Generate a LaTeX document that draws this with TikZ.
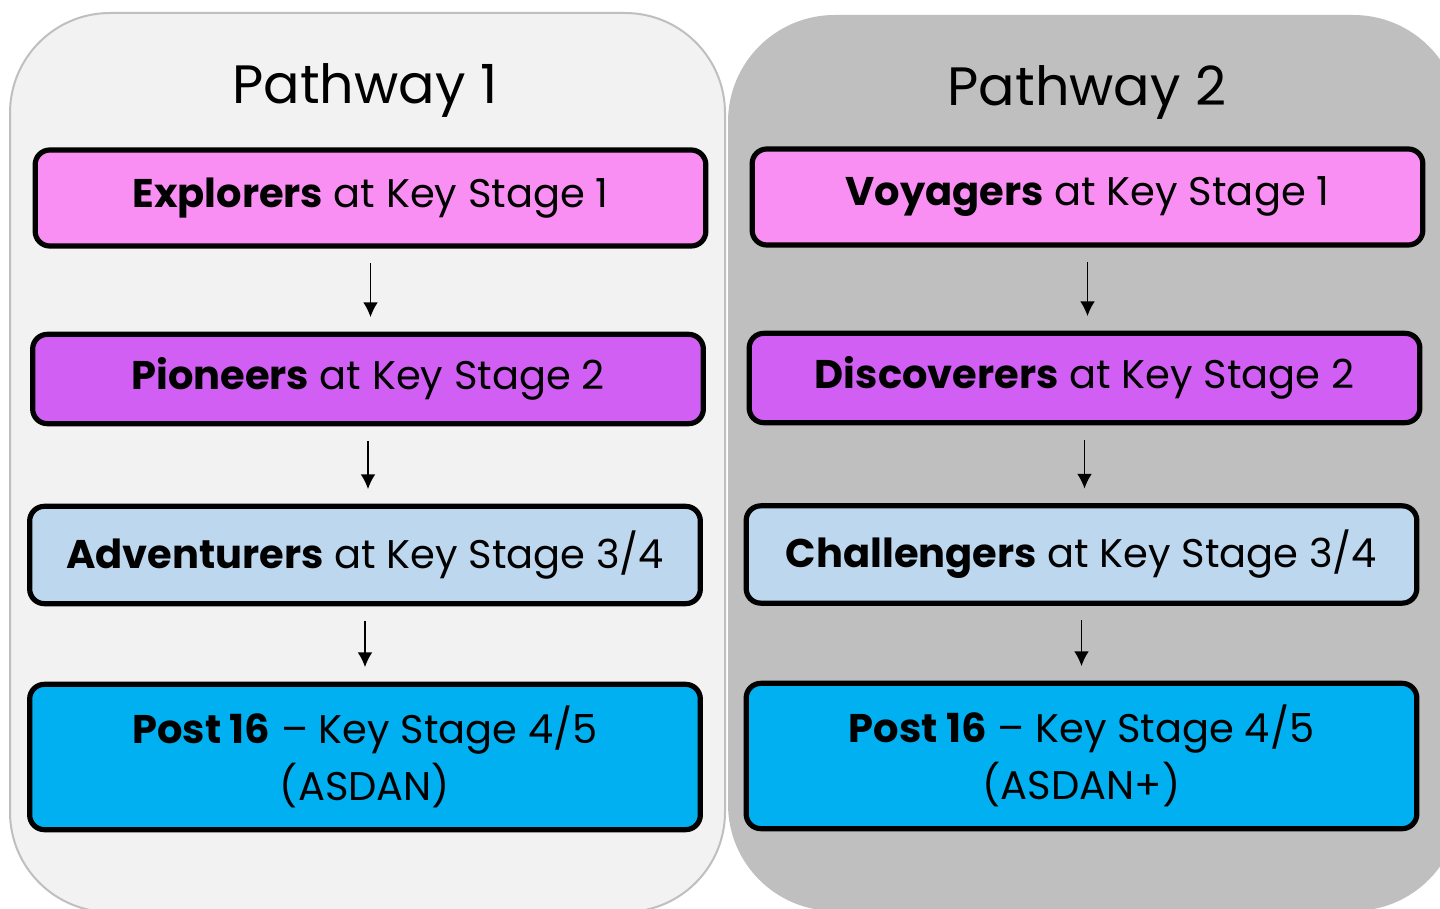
\documentclass[tikz,border=0pt]{standalone}
\usepackage{fontspec}
\setmainfont{Poppins}
\usetikzlibrary{calc,arrows.meta}
\definecolor{panelA}{HTML}{F2F2F2}
\definecolor{panelAline}{HTML}{BFBFBF}
\definecolor{panelB}{HTML}{BFBFBF}
\definecolor{ksone}{HTML}{F98FF3}
\definecolor{kstwo}{HTML}{D25FF4}
\definecolor{ksthree}{HTML}{BDD7EE}
\definecolor{ksfour}{HTML}{00B0F0}
\tikzset{
  x=0.75pt, y=-0.75pt,
  stagebox/.style={draw=black, line width=3.9pt, rounded corners=11pt,
    minimum width=503pt, inner sep=0pt, align=center,
    font=\fontsize{30}{43}\selectfont},
  title/.style={font=\fontsize{40.5}{48}\selectfont, inner sep=0pt},
  arr/.style={-{Latex[length=11pt,width=11pt]}, line width=1.1pt,
    shorten <=11pt, shorten >=11pt},
}
\begin{document}
\begin{tikzpicture}
\useasboundingbox (0,0) rectangle (1440,909);
\begin{scope}
\clip (0,0) rectangle (1440,909);
\fill[panelB, rounded corners=80pt] (728,15) rectangle (1460,911);
\filldraw[fill=panelA, draw=panelAline, line width=1.5pt, rounded corners=75pt] (10,13) rectangle (725,912);
\end{scope}

\node[title] (t1) at (365,90) {Pathway 1};
\node[title] (t2) at (1087,92) {Pathway 2};

\node[stagebox, fill=ksone, minimum height=72pt] (e1) at (370.5,198) {\textbf{Explorers} at Key Stage 1};
\node[stagebox, fill=kstwo, minimum height=67pt] (p1) at (368,379) {\textbf{Pioneers} at Key Stage 2};
\node[stagebox, fill=ksthree, minimum height=73pt] (a1) at (365,555) {\textbf{Adventurers} at Key Stage 3/4};
\node[stagebox, fill=ksfour, minimum height=109pt] (s1) at (365,757) {\textbf{Post 16} – Key Stage 4/5\\(ASDAN)};

\node[stagebox, fill=ksone, minimum height=72pt] (v2) at (1087.5,197) {\textbf{Voyagers} at Key Stage 1};
\node[stagebox, fill=kstwo, minimum height=67pt] (d2) at (1084.5,378) {\textbf{Discoverers} at Key Stage 2};
\node[stagebox, fill=ksthree, minimum height=73pt] (c2) at (1081.5,554.5) {\textbf{Challengers} at Key Stage 3/4};
\node[stagebox, fill=ksfour, minimum height=109pt] (s2) at (1081.5,756) {\textbf{Post 16} – Key Stage 4/5\\(ASDAN+)};

\draw[arr] (e1.south) -- (e1.south |- p1.north);
\draw[arr] (p1.south) -- (p1.south |- a1.north);
\draw[arr] (a1.south) -- (a1.south |- s1.north);
\draw[arr] (v2.south) -- (v2.south |- d2.north);
\draw[arr] (d2.south) -- (d2.south |- c2.north);
\draw[arr] (c2.south) -- (c2.south |- s2.north);
\end{tikzpicture}
\end{document}
